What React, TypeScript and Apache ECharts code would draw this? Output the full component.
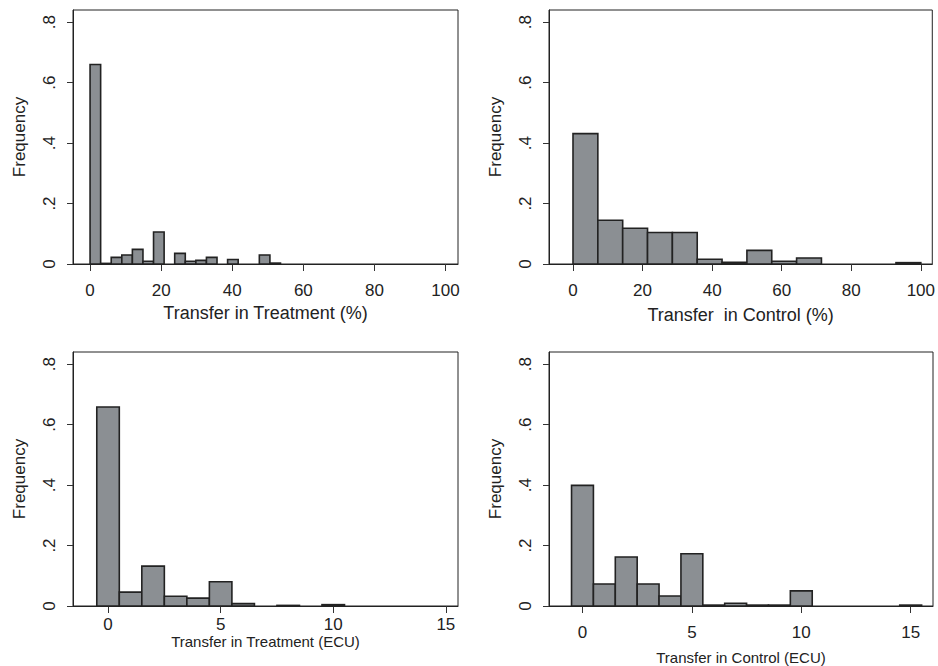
import React, { useEffect, useRef } from "react";
import * as echarts from "echarts";

// ---- Data (relative frequencies) ----
// Panel 1: Transfer in Treatment (%), bins start at 0, width ~2.976
const treatPctStart = 0;
const treatPctWidth = 2.976;
const treatPctFreq = [0.66, 0.002, 0.022, 0.03, 0.0485, 0.009, 0.106, 0, 0.035, 0.009, 0.012, 0.022, 0, 0.015, 0, 0, 0.03, 0.003];

// Panel 2: Transfer in Control (%), 14 bins over 0..100
const ctrlPctStart = 0;
const ctrlPctWidth = 100 / 14;
const ctrlPctFreq = [0.431, 0.1445, 0.118, 0.104, 0.104, 0.0155, 0.0055, 0.045, 0.009, 0.02, 0, 0, 0, 0.0045];

// Panel 3: Transfer in Treatment (ECU), unit bins centred on integers
const treatEcuStart = -0.5;
const treatEcuWidth = 1;
const treatEcuFreq = [0.658, 0.046, 0.132, 0.032, 0.026, 0.08, 0.008, 0, 0.002, 0, 0.0045];

// Panel 4: Transfer in Control (ECU)
const ctrlEcuStart = -0.5;
const ctrlEcuWidth = 1;
const ctrlEcuFreq = [0.399, 0.073, 0.162, 0.073, 0.033, 0.173, 0.003, 0.009, 0.003, 0.003, 0.05, 0, 0, 0, 0, 0.003];

const yTicks = [0, 0.2, 0.4, 0.6, 0.8];
const pctTicks = [0, 20, 40, 60, 80, 100];
const ecuTicks = [0, 5, 10, 15];

const titles = [
  "Transfer in Treatment (%)",
  "Transfer  in Control (%)",
  "Transfer in Treatment (ECU)",
  "Transfer in Control (ECU)",
];
const yTitle = "Frequency";

const FONT = "'Liberation Sans', Arial, Helvetica, sans-serif";
const TEXT = "#222";

function bins(start: number, width: number, freq: number[]) {
  const out: number[][] = [];
  freq.forEach((f, i) => {
    if (f > 0) out.push([start + i * width, start + (i + 1) * width, f]);
  });
  return out;
}

export default function App() {
  const ref = useRef<HTMLDivElement>(null);
  useEffect(() => {
    if (!ref.current) return;
    const chart = echarts.init(ref.current, null, { renderer: "svg" });

    const grids = [
      { left: 73, top: 10, width: 385, height: 254 },
      { left: 549, top: 10, width: 384, height: 254 },
      { left: 73, top: 352, width: 385, height: 254 },
      { left: 549, top: 352, width: 384, height: 254 },
    ];
    const xRanges = [
      [-4.8, 103.5],
      [-6.9, 103.3],
      [-1.556, 15.54],
      [-1.53, 16.02],
    ];
    const xTickSets = [pctTicks, pctTicks, ecuTicks, ecuTicks];
    const labelMargins = [18, 18, 10, 18];
    const nameGaps = [40, 42, 28, 44];
    const nameSizes = [18, 18, 15, 15];
    const datasets = [
      bins(treatPctStart, treatPctWidth, treatPctFreq),
      bins(ctrlPctStart, ctrlPctWidth, ctrlPctFreq),
      bins(treatEcuStart, treatEcuWidth, treatEcuFreq),
      bins(ctrlEcuStart, ctrlEcuWidth, ctrlEcuFreq),
    ];

    const renderItem = (params: any, api: any) => {
      const p0 = api.coord([api.value(0), api.value(2)]);
      const p1 = api.coord([api.value(1), 0]);
      return {
        type: "rect",
        shape: { x: p0[0], y: p0[1], width: p1[0] - p0[0], height: p1[1] - p0[1] },
        style: { fill: "#8b8f93", stroke: "#222", lineWidth: 1.6 },
      };
    };

    chart.setOption({
      animation: false,
      backgroundColor: "#fff",
      grid: grids.map((g) => ({
        ...g,
        show: true,
        borderColor: "#222",
        borderWidth: 1,
        backgroundColor: "transparent",
      })),
      xAxis: grids.map((_, i) => ({
        type: "value",
        gridIndex: i,
        min: xRanges[i][0],
        max: xRanges[i][1],
        splitLine: { show: false },
        axisLine: { show: true, onZero: false, lineStyle: { color: "#222", width: 1 } },
        axisTick: {
          show: true,
          length: 7,
          customValues: xTickSets[i],
          lineStyle: { color: "#333", width: 1 },
        },
        axisLabel: {
          customValues: xTickSets[i],
          margin: labelMargins[i],
          fontSize: 17,
          color: TEXT,
          fontFamily: FONT,
        },
        name: titles[i],
        nameLocation: "middle",
        nameGap: nameGaps[i],
        nameTextStyle: { fontSize: nameSizes[i], color: TEXT, fontFamily: FONT },
      })),
      yAxis: grids.map((_, i) => ({
        type: "value",
        gridIndex: i,
        min: 0,
        max: 0.84,
        splitLine: { show: false },
        axisLine: { show: true, onZero: false, lineStyle: { color: "#222", width: 1 } },
        axisTick: {
          show: true,
          length: 6,
          customValues: yTicks,
          lineStyle: { color: "#333", width: 1 },
        },
        axisLabel: {
          customValues: yTicks,
          rotate: 90,
          margin: 15,
          fontSize: 17,
          color: TEXT,
          fontFamily: FONT,
          formatter: (v: number) => (v === 0 ? "0" : String(Math.round(v * 10) / 10).replace(/^0/, "")),
        },
        name: yTitle,
        nameLocation: "middle",
        nameRotate: 90,
        nameGap: 45,
        nameTextStyle: { fontSize: 17, color: TEXT, fontFamily: FONT },
      })),
      series: datasets.map((d, i) => ({
        type: "custom",
        xAxisIndex: i,
        yAxisIndex: i,
        data: d,
        encode: { x: [0, 1], y: 2 },
        renderItem,
      })),
    });

    return () => chart.dispose();
  }, []);

  return (
    <div
      ref={ref}
      style={{ position: "fixed", left: 0, top: 0, width: 938, height: 666, background: "#fff" }}
    />
  );
}
